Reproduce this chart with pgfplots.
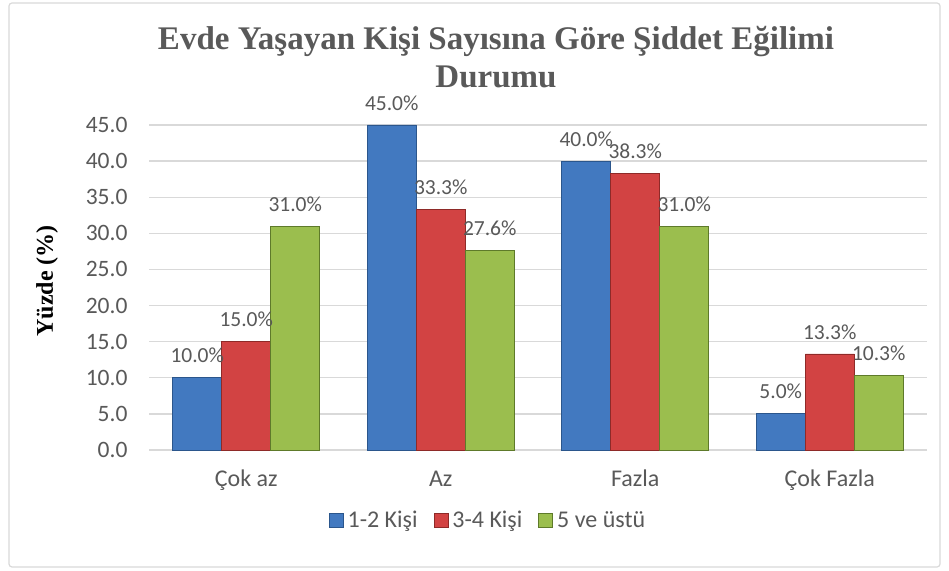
\documentclass[border=0pt]{standalone}
\usepackage{pgfplots}
\pgfplotsset{compat=1.18}
\usepackage{fontspec}
\setmainfont{Carlito}
\newfontfamily\timesfont{Liberation Serif}
\definecolor{txt}{HTML}{595959}
\definecolor{grid}{HTML}{D9D9D9}
\definecolor{bblue}{HTML}{4279C0}
\definecolor{bbluedk}{HTML}{2B568C}
\definecolor{bred}{HTML}{D24343}
\definecolor{breddk}{HTML}{8E2A28}
\definecolor{bgreen}{HTML}{9BBE4E}
\definecolor{bgreendk}{HTML}{5E7A2A}
\begin{document}
\begin{tikzpicture}
\path[use as bounding box] (0pt,0pt) rectangle (949pt,570pt);
\draw[rounded corners=3pt, draw=grid, line width=1.2pt] (9pt,3pt) rectangle (940pt,567pt);
\node[anchor=base, text=txt, font=\timesfont\bfseries\fontsize{33}{38}\selectfont] at (496pt,520pt) {Evde Yaşayan Kişi Sayısına Göre Şiddet Eğilimi};
\node[anchor=base, text=txt, font=\timesfont\bfseries\fontsize{33}{38}\selectfont] at (496pt,482pt) {Durumu};
\node[rotate=90, text=black, font=\timesfont\bfseries\fontsize{24}{28}\selectfont] at (47pt,289pt) {Yüzde (\%)};
\begin{axis}[
  at={(149pt,120pt)}, anchor=south west,
  scale only axis, width=778pt, height=325pt,
  ybar=0pt, bar width=49pt,
  xmin=-0.5, xmax=3.5, ymin=0, ymax=45,
  xtick={0,1,2,3},
  xticklabels={Çok az, Az, Fazla, Çok Fazla},
  ytick={0,5,...,45},
  axis x line*=bottom,
  axis y line*=left,
  x axis line style={draw=grid, line width=1.5pt, -},
  y axis line style={draw=none, -},
  major tick length=0pt,
  ymajorgrids, grid style={draw=grid, line width=1.3pt},
  /pgf/number format/assume math mode=true,
  yticklabel={\pgfmathprintnumber[fixed,fixed zerofill,precision=1]{\tick}},
  yticklabel style={anchor=east, xshift=-18pt, text=txt, font=\fontsize{23.5}{27}\selectfont},
  tick style={draw=none},
  xticklabel style={text=txt, font=\fontsize{24}{28}\selectfont, anchor=base, yshift=-36pt},
  nodes near coords={\pgfmathprintnumber[fixed,fixed zerofill,precision=1]{\pgfplotspointmeta}\%},
  nodes near coords style={text=txt, font=\fontsize{21.5}{25}\selectfont, anchor=south, yshift=11pt},
  legend style={at={(0.4357,-0.2154)}, anchor=center, draw=none, fill=none,
    legend columns=3, font=\fontsize{24}{28}\selectfont, text=txt,
    /tikz/every odd column/.append style={column sep=2pt},
    /tikz/every even column/.append style={column sep=14pt}},
  legend image code/.code={\fill[#1] (0pt,-7pt) rectangle (14pt,7pt);},
  clip=false,
]
\addplot[fill=bblue, draw=bbluedk, line width=0.8pt] coordinates {(0,10.0) (1,45.0) (2,40.0) (3,5.0)};
\addplot[fill=bred, draw=breddk, line width=0.8pt] coordinates {(0,15.0) (1,33.3) (2,38.3) (3,13.3)};
\addplot[fill=bgreen, draw=bgreendk, line width=0.8pt] coordinates {(0,31.0) (1,27.6) (2,31.0) (3,10.3)};
\legend{1-2 Kişi, 3-4 Kişi, 5 ve üstü}
\end{axis}
\end{tikzpicture}
\end{document}
